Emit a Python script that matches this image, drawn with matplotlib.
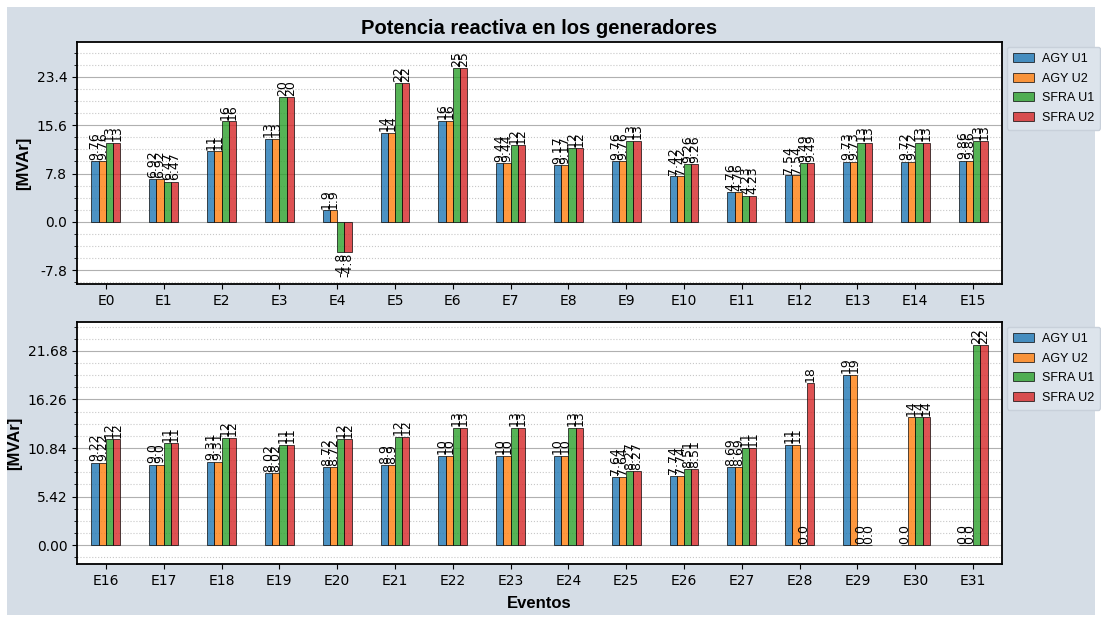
import matplotlib
matplotlib.use("Agg")
import matplotlib.pyplot as plt
import numpy as np
from matplotlib.patches import Rectangle
from matplotlib.ticker import AutoMinorLocator, FixedLocator

# eventos y generadores
eventos_a = ["E%d" % i for i in range(0, 16)]
eventos_b = ["E%d" % i for i in range(16, 32)]
generadores = ["AGY U1", "AGY U2", "SFRA U1", "SFRA U2"]
colores = ["#1f77b4", "#ff7f0e", "#2ca02c", "#d62728"]

# potencia reactiva [MVAr], E0..E15
agy_u1_a = [9.76, 6.92, 11.4, 13.4, 1.9, 14.4, 16.3, 9.44, 9.17, 9.76, 7.42, 4.76, 7.54, 9.73, 9.72, 9.86]
agy_u2_a = [9.76, 6.92, 11.4, 13.4, 1.9, 14.4, 16.3, 9.44, 9.17, 9.76, 7.42, 4.76, 7.54, 9.73, 9.72, 9.86]
sfra_u1_a = [12.8, 6.47, 16.2, 20.1, -4.8, 22.4, 24.8, 12.4, 11.9, 13.1, 9.26, 4.23, 9.49, 12.8, 12.8, 13.0]
sfra_u2_a = [12.8, 6.47, 16.2, 20.1, -4.8, 22.4, 24.8, 12.4, 11.9, 13.1, 9.26, 4.23, 9.49, 12.8, 12.8, 13.0]

# potencia reactiva [MVAr], E16..E31
agy_u1_b = [9.22, 9.0, 9.31, 8.02, 8.72, 8.9, 10.0, 10.0, 10.0, 7.64, 7.74, 8.69, 11.2, 19.0, 0.0, 0.0]
agy_u2_b = [9.22, 9.0, 9.31, 8.02, 8.72, 8.9, 10.0, 10.0, 10.0, 7.64, 7.74, 8.69, 11.2, 19.0, 14.3, 0.0]
sfra_u1_b = [11.8, 11.4, 12.0, 11.2, 11.8, 12.1, 13.1, 13.1, 13.1, 8.27, 8.51, 10.8, 0.0, 0.0, 14.3, 22.3]
sfra_u2_b = [11.8, 11.4, 12.0, 11.2, 11.8, 12.1, 13.1, 13.1, 13.1, 8.27, 8.51, 10.8, 18.1, 0.0, 14.3, 22.3]

yticks_a = [-7.8, 0.0, 7.8, 15.6, 23.4]
yticks_b = [0.0, 5.42, 10.84, 16.26, 21.68]

FONDO = "#d5dde6"


def etiqueta(v):
    if abs(v) >= 10:
        return str(round(v))
    return str(round(v, 2))


def grafico(ax, eventos, series, yticks, ylim, fmt):
    x = np.arange(len(eventos))
    w = 0.5 / len(series)
    for i, (nombre, datos) in enumerate(zip(generadores, series)):
        pos = x - 0.25 + w * (i + 0.5)
        barras = ax.bar(pos, datos, w, color=colores[i], alpha=0.8,
                        edgecolor="black", linewidth=0.6, label=nombre, zorder=3)
        ax.bar_label(barras, labels=[etiqueta(v) for v in datos],
                     rotation=90, fontsize=9, padding=1, zorder=4)
    ax.set_xlim(-0.5, len(eventos) - 0.5)
    ax.set_xticks(x)
    ax.set_xticklabels(eventos, fontsize=10)
    ax.yaxis.set_major_locator(FixedLocator(yticks))
    ax.set_yticklabels([fmt % t for t in yticks], fontsize=10)
    ax.yaxis.set_minor_locator(AutoMinorLocator(4))
    ax.set_ylim(*ylim)
    ax.grid(axis="y", which="major", color="#b0b0b0", linewidth=0.8, zorder=0)
    ax.grid(axis="y", which="minor", color="#c8c8c8", linestyle=":", linewidth=0.8, zorder=0)
    ax.set_axisbelow(True)
    for s in ax.spines.values():
        s.set_linewidth(1.3)
        s.set_color("black")
    ax.set_ylabel("[MVAr]", fontsize=12, fontweight="bold", family="Liberation Sans")
    ax.legend(loc="upper left", bbox_to_anchor=(1.005, 0.98), borderaxespad=0,
              prop={"family": "Liberation Sans", "size": 9},
              facecolor="#dde4ec", edgecolor="#c8d0da", framealpha=1,
              handlelength=1.7, handletextpad=0.6, borderpad=0.5,
              labelspacing=0.6)


fig = plt.figure(figsize=(11.01, 6.17), dpi=100, facecolor="white")
fig.patches.append(Rectangle((7 / 1101, 2 / 617), 1088 / 1101, 608 / 617,
                             transform=fig.transFigure, facecolor=FONDO,
                             edgecolor="none", zorder=-10))

ax1 = fig.add_axes([77 / 1101, 1 - 284 / 617, 925 / 1101, 242 / 617])
ax2 = fig.add_axes([77 / 1101, 1 - 564 / 617, 925 / 1101, 242 / 617])

grafico(ax1, eventos_a, [agy_u1_a, agy_u2_a, sfra_u1_a, sfra_u2_a], yticks_a, (-10.0, 29.0), "%.1f")
grafico(ax2, eventos_b, [agy_u1_b, agy_u2_b, sfra_u1_b, sfra_u2_b], yticks_b, (-2.1, 24.9), "%.2f")

ax1.set_title("Potencia reactiva en los generadores", fontsize=14.5, fontweight="bold",
              family="Liberation Sans", pad=6)
ax2.set_xlabel("Eventos", fontsize=12, fontweight="bold", family="Liberation Sans", labelpad=6)

fig.savefig("out.png", dpi=100, facecolor=fig.get_facecolor())
